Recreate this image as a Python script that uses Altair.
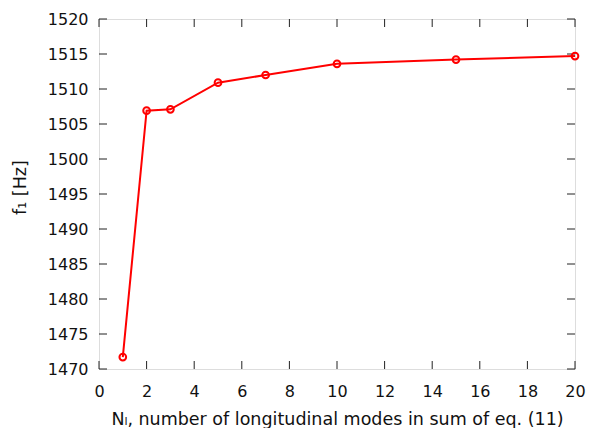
import altair as alt
import pandas as pd

modes = [1, 2, 3, 5, 7, 10, 15, 20]
freq = [1471.7, 1506.9, 1507.1, 1510.9, 1512.0, 1513.6, 1514.2, 1514.7]

x_ticks = [0, 2, 4, 6, 8, 10, 12, 14, 16, 18, 20]
y_ticks = [1470, 1475, 1480, 1485, 1490, 1495, 1500, 1505, 1510, 1515, 1520]

W, H = 476, 350
TICK = 8
FONT = "DejaVu Sans"

df = pd.DataFrame({"n": modes, "f": freq})
xt = pd.DataFrame({"n": x_ticks})
yt = pd.DataFrame({"f": y_ticks})

xscale = alt.Scale(domain=[0, 20], nice=False, zero=False)
yscale = alt.Scale(domain=[1470, 1520], nice=False, zero=False)

xaxis = alt.Axis(values=x_ticks, ticks=False, domain=False, grid=False, format="d",
                 title="Nₗ, number of longitudinal modes in sum of eq. (11)",
                 labelPadding=14, titlePadding=11, labelFontSize=16, titleFontSize=17.5,
                 labelFont=FONT, titleFont=FONT, labelColor="#111", titleColor="#111",
                 titleFontWeight="normal", labelFlush=False)
yaxis = alt.Axis(values=y_ticks, ticks=False, domain=False, grid=False, format="d",
                 title="f₁ [Hz]", titleY=168,
                 labelPadding=11, titlePadding=18, labelFontSize=16, titleFontSize=17.5,
                 labelFont=FONT, titleFont=FONT, labelColor="#111", titleColor="#111",
                 titleFontWeight="normal", labelFlush=False)

X = alt.X("n:Q", scale=xscale, axis=xaxis)
Y = alt.Y("f:Q", scale=yscale, axis=yaxis)

line = alt.Chart(df).mark_line(color="#ff0000", strokeWidth=2).encode(x=X, y=Y)
pts = alt.Chart(df).mark_point(color="#ff0000", shape="circle", size=45,
                               strokeWidth=2, filled=False, opacity=1).encode(x=X, y=Y)

tick_color = "#222"
bottom = alt.Chart(xt).mark_rule(color=tick_color, strokeWidth=1).encode(
    x=X, y=alt.value(H), y2=alt.value(H - TICK))
top = alt.Chart(xt).mark_rule(color=tick_color, strokeWidth=1).encode(
    x=X, y=alt.value(0), y2=alt.value(TICK))
left = alt.Chart(yt).mark_rule(color=tick_color, strokeWidth=1).encode(
    y=Y, x=alt.value(0), x2=alt.value(TICK))
right = alt.Chart(yt).mark_rule(color=tick_color, strokeWidth=1).encode(
    y=Y, x=alt.value(W), x2=alt.value(W - TICK))

chart = alt.layer(bottom, top, left, right, line, pts).properties(
    width=W, height=H,
    autosize=alt.AutoSizeParams(type="none"),
    padding={"left": 99, "top": 19, "right": 14, "bottom": 59},
).configure_view(stroke="#222", strokeWidth=1).configure(background="white")

chart.save("out.html", embed_options={"renderer": "svg", "actions": False})
